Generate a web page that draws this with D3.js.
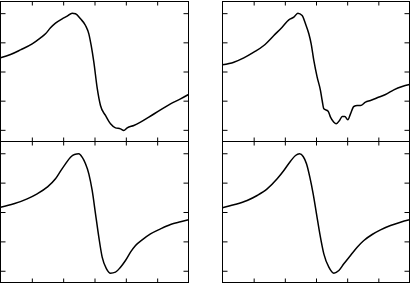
<!DOCTYPE html>
<html>
<head>
<meta charset="utf-8">
<script src="https://cdn.jsdelivr.net/npm/d3@7"></script>
<style>
  html, body { margin: 0; padding: 0; background: #fff; }
  svg { display: block; }
</style>
</head>
<body>
<div id="chart"></div>
<script>
// Four derivative-shaped spectra, normalised to +/-1, no axis labels.

const xTicks = [1, 2, 3, 4, 5];
const yTicks = [-1, -0.5, 0, 0.5, 1];

// top left
const tlX = [0, 0.319, 0.638, 1.011, 1.277, 1.436, 1.596, 1.755, 1.968, 2.128, 2.287, 2.394, 2.553, 2.713, 2.819, 2.894, 2.979, 3.085, 3.191, 3.351, 3.511, 3.670, 3.830, 3.936, 4.043, 4.255, 4.468, 4.734, 5.106, 5.426, 5.745, 6.0];
const tlY = [0.234, 0.291, 0.371, 0.474, 0.577, 0.646, 0.749, 0.829, 0.903, 0.949, 1.0, 0.989, 0.903, 0.789, 0.646, 0.446, 0.16, -0.28, -0.583, -0.754, -0.897, -0.966, -0.983, -1.011, -0.966, -0.926, -0.869, -0.783, -0.657, -0.554, -0.469, -0.394];

// top right
const trX = [0, 0.364, 0.684, 1.005, 1.326, 1.647, 1.914, 2.128, 2.289, 2.417, 2.556, 2.663, 2.77, 2.845, 2.93, 3.037, 3.144, 3.198, 3.251, 3.39, 3.465, 3.572, 3.647, 3.754, 3.84, 3.925, 4.021, 4.107, 4.214, 4.321, 4.428, 4.588, 4.749, 4.963, 5.23, 5.497, 5.765, 6.0];
const trY = [0.114, 0.16, 0.234, 0.331, 0.446, 0.617, 0.76, 0.886, 0.931, 1.0, 0.96, 0.817, 0.646, 0.474, 0.189, -0.097, -0.326, -0.497, -0.64, -0.68, -0.783, -0.869, -0.897, -0.84, -0.771, -0.771, -0.829, -0.726, -0.6, -0.583, -0.583, -0.526, -0.497, -0.451, -0.394, -0.314, -0.257, -0.223];

// bottom left
const blX = [0, 0.426, 0.851, 1.17, 1.489, 1.755, 1.915, 2.074, 2.234, 2.362, 2.5, 2.606, 2.713, 2.819, 2.926, 3.032, 3.138, 3.245, 3.383, 3.511, 3.67, 3.83, 3.989, 4.149, 4.309, 4.521, 4.787, 5.106, 5.426, 5.745, 6.0];
const blY = [0.082, 0.139, 0.224, 0.309, 0.423, 0.565, 0.695, 0.82, 0.933, 0.979, 0.99, 0.933, 0.82, 0.65, 0.366, -0.031, -0.428, -0.769, -0.967, -1.041, -1.024, -0.939, -0.826, -0.684, -0.57, -0.474, -0.372, -0.287, -0.213, -0.167, -0.133];

// bottom right
const brX = [0, 0.364, 0.791, 1.112, 1.433, 1.754, 1.968, 2.182, 2.342, 2.471, 2.588, 2.695, 2.802, 2.909, 3.016, 3.123, 3.251, 3.412, 3.572, 3.733, 3.893, 4.107, 4.321, 4.535, 4.802, 5.07, 5.39, 5.711, 6.0];
const brY = [0.071, 0.122, 0.196, 0.281, 0.394, 0.565, 0.706, 0.865, 0.962, 0.99, 0.945, 0.82, 0.593, 0.309, -0.031, -0.372, -0.712, -0.939, -1.041, -0.996, -0.882, -0.74, -0.599, -0.485, -0.383, -0.304, -0.23, -0.173, -0.133];

const W = 410, H = 284;

// pixel edges of each frame
const panels = [
  { x0: 0, x1: 188, y0: 1, y1: 141, xs: tlX, ys: tlY },
  { x0: 222, x1: 409, y0: 1, y1: 141, xs: trX, ys: trY },
  { x0: 0, x1: 188, y0: 141, y1: 282, xs: blX, ys: blY },
  { x0: 222, x1: 409, y0: 141, y1: 282, xs: brX, ys: brY },
];

const svg = d3.select("#chart").append("svg")
  .attr("width", W)
  .attr("height", H);

panels.forEach((p, i) => {
  const left = p.x0 + 0.5, right = p.x1 + 0.5;
  const top = p.y0 + 0.5, bottom = p.y1 + 0.5;

  const x = d3.scaleLinear().domain([0, 6]).range([left, right]);
  const y = d3.scaleLinear().domain([-1.2, 1.2]).range([bottom, top]);

  const g = svg.append("g");

  g.append("clipPath").attr("id", "clip" + i)
    .append("rect")
    .attr("x", left).attr("y", top)
    .attr("width", right - left).attr("height", bottom - top);

  const line = d3.line()
    .x(d => x(d[0]))
    .y(d => y(d[1]))
    .curve(d3.curveMonotoneX);

  g.append("path")
    .datum(p.xs.map((v, k) => [v, p.ys[k]]))
    .attr("clip-path", `url(#clip${i})`)
    .attr("fill", "none")
    .attr("stroke", "#000")
    .attr("stroke-width", 1.5)
    .attr("stroke-linejoin", "round")
    .attr("d", line);

  const axes = [
    [d3.axisTop(x).tickValues(xTicks).tickSize(-4), `translate(0,${top})`],
    [d3.axisBottom(x).tickValues(xTicks).tickSize(-4), `translate(0,${bottom})`],
    [d3.axisLeft(y).tickValues(yTicks).tickSize(-5), `translate(${left},0)`],
    [d3.axisRight(y).tickValues(yTicks).tickSize(-5), `translate(${right},0)`],
  ];
  axes.forEach(([ax, tr]) => {
    const a = g.append("g").attr("transform", tr)
      .call(ax.tickFormat("").tickSizeOuter(0));
    a.select(".domain").remove();
    a.selectAll("line").attr("stroke", "#000");
  });

  g.append("rect")
    .attr("x", left).attr("y", top)
    .attr("width", right - left).attr("height", bottom - top)
    .attr("fill", "none")
    .attr("stroke", "#000")
    .attr("stroke-width", 1);
});
</script>
</body>
</html>
